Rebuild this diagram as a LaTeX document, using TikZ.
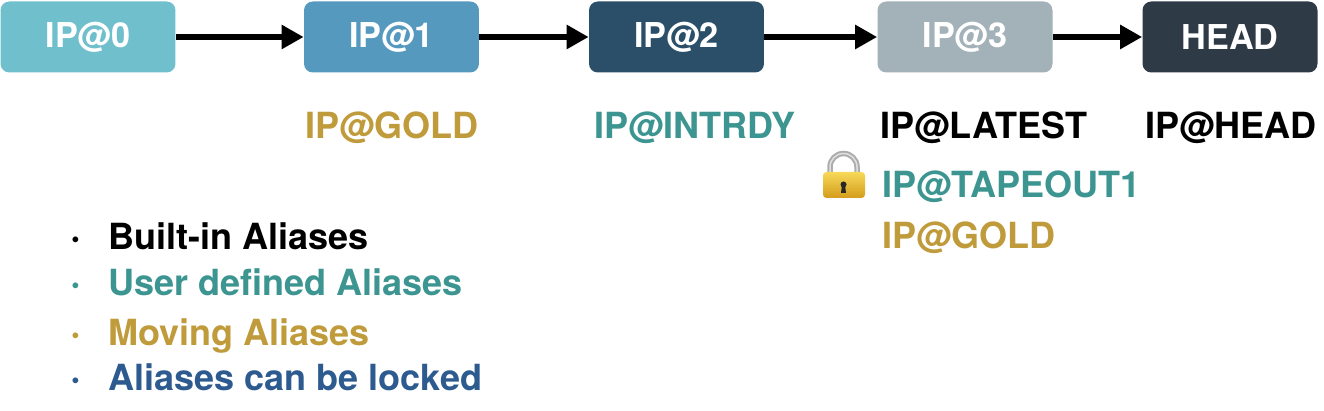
\documentclass[tikz,border=0pt]{standalone}
\usepackage{fontspec}
\setmainfont{TeX Gyre Heros}
\usetikzlibrary{arrows.meta}

\definecolor{ipzero}{HTML}{70BFCC}
\definecolor{ipone}{HTML}{5599BF}
\definecolor{iptwo}{HTML}{2B4F69}
\definecolor{ipthree}{HTML}{A3B1B9}
\definecolor{iphead}{HTML}{2F3A47}
\definecolor{aliasgold}{HTML}{C09B3B}
\definecolor{aliasteal}{HTML}{3C9590}
\definecolor{aliasblue}{HTML}{2D5B8F}
\definecolor{lockhi}{HTML}{F7D958}
\definecolor{locklo}{HTML}{D49C1C}

\begin{document}
\begin{tikzpicture}[x=0.02cm,y=0.02cm,
  ipbox/.style={rounded corners=5pt, minimum width=3.5cm, minimum height=1.42cm,
    inner sep=0pt, text=white, font=\bfseries\fontsize{19.5}{22}\selectfont},
  alias/.style={inner sep=0pt, font=\bfseries\fontsize{20.5}{22}\selectfont},
  dot/.style={inner sep=0pt, anchor=base, font=\bfseries\fontsize{22}{22}\selectfont},
  link/.style={-{Triangle[length=0.44cm,width=0.46cm]}, line width=0.13cm}]

  \useasboundingbox (0,0) rectangle (1324,411);

  % the chain of versions
  \node[ipbox, fill=ipzero] (ip0) at (88,374) {IP@0};
  \node[ipbox, fill=ipone] (ip1) at (391.5,374) {IP@1};
  \node[ipbox, fill=iptwo] (ip2) at (676.5,374) {IP@2};
  \node[ipbox, fill=ipthree] (ip3) at (965,374) {IP@3};
  \node[ipbox, fill=iphead] (head) at (1230,374) {HEAD};

  \draw[link] (ip0) -- (ip1);
  \draw[link] (ip1) -- (ip2);
  \draw[link] (ip2) -- (ip3);
  \draw[link] (ip3) -- (head);

  % aliases under the versions
  \node[alias, anchor=base, text=aliasgold] (gold) at (392,272) {IP@GOLD};
  \node[alias, anchor=base, text=aliasteal] (intrdy) at (695,272) {IP@INTRDY};
  \node[alias, anchor=base] (latest) at (984,272) {IP@LATEST};
  \node[alias, anchor=base] (headalias) at (1231,272) {IP@HEAD};
  \node[alias, anchor=base west, text=aliasteal] (tapeout) at (882,213) {IP@TAPEOUT1};
  \node[alias, anchor=base west, text=aliasgold] (goldthree) at (882,162) {IP@GOLD};

  % lock
  \draw[line width=0.11cm, gray!65] (830,236) -- (830,244) arc (180:0:13.5) -- (857,236);
  \draw[line width=0.03cm, gray!25] (830,238) -- (830,244) arc (180:0:13.5) -- (857,238);
  \shade[top color=lockhi, bottom color=locklo, rounded corners=2pt]
    (823,213) rectangle (865,239);
  \fill[black!85] (843.5,226.5) circle (3);
  \fill[black!85] (842,226) -- (845,226) -- (846,218) -- (841,218) -- cycle;

  % legend
  \node[dot] (dot1) at (76,161) {·};
  \node[alias, anchor=base west] (builtin) at (108,161) {Built-in Aliases};
  \node[dot, text=aliasteal] (dot2) at (76,115) {·};
  \node[alias, anchor=base west, text=aliasteal] (userdef) at (108,115) {User defined Aliases};
  \node[dot, text=aliasgold] (dot3) at (76,65) {·};
  \node[alias, anchor=base west, text=aliasgold] (moving) at (108,65) {Moving Aliases};
  \node[dot, text=aliasblue] (dot4) at (76,20) {·};
  \node[alias, anchor=base west, text=aliasblue] (locked) at (108,20) {Aliases can be locked};

\end{tikzpicture}
\end{document}
